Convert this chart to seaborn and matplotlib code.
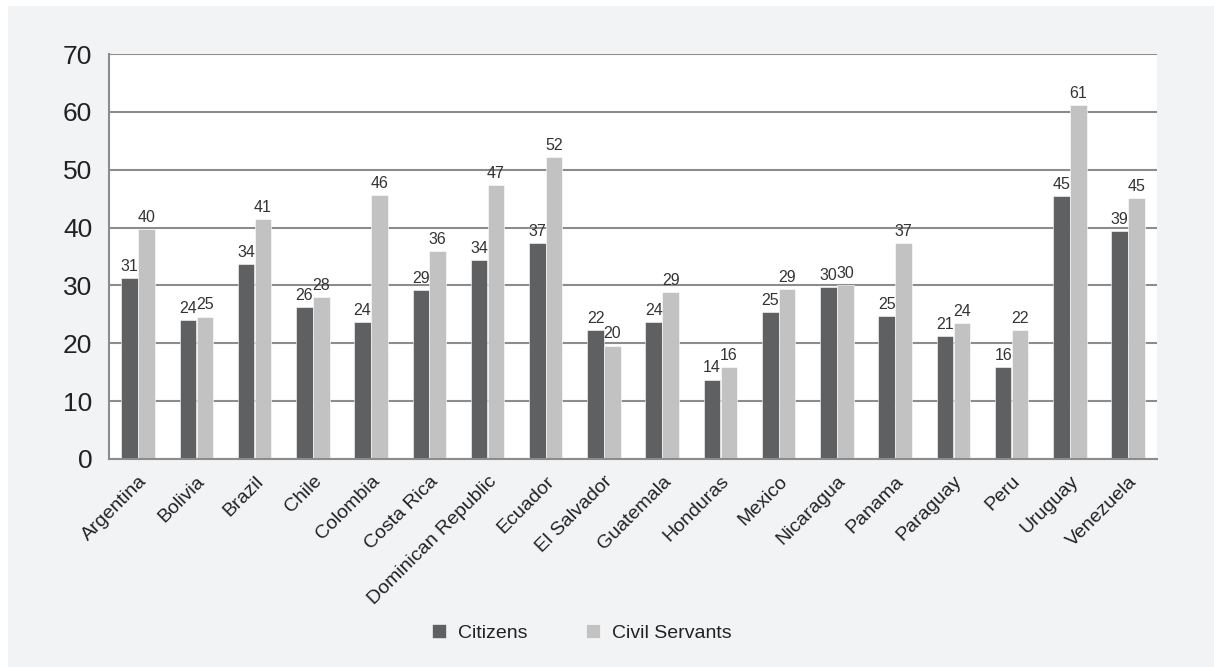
import pandas as pd
import numpy as np
import matplotlib
matplotlib.use('Agg')
import matplotlib.pyplot as plt
import seaborn as sns
from matplotlib.patches import Rectangle

# =============================================

countries = ['Argentina', 'Bolivia', 'Brazil', 'Chile', 'Colombia', 'Costa Rica',
             'Dominican Republic', 'Ecuador', 'El Salvador', 'Guatemala', 'Honduras',
             'Mexico', 'Nicaragua', 'Panama', 'Paraguay', 'Peru', 'Uruguay', 'Venezuela']
citizens = [31.3, 24.0, 33.7, 26.3, 23.7, 29.2, 34.4, 37.3, 22.3, 23.7, 13.7,
            25.4, 29.7, 24.7, 21.2, 15.9, 45.4, 39.4]
civil_servants = [39.8, 24.6, 41.4, 28.0, 45.6, 36.0, 47.4, 52.2, 19.6, 28.9, 15.9,
                  29.4, 30.1, 37.3, 23.5, 22.3, 61.2, 45.1]
yticks = [0, 10, 20, 30, 40, 50, 60, 70]

data = pd.DataFrame({
    'Country': countries * 2,
    'Value': citizens + civil_servants,
    'Group': ['Citizens'] * len(countries) + ['Civil Servants'] * len(countries),
})

# =============================================

sns.set_style('white')
plt.rcParams['font.family'] = ['Liberation Sans', 'DejaVu Sans']

bg = '#f2f3f5'
grid_col = '#8c8c8c'
text_col = '#222222'

fig = plt.figure(figsize=(12.14, 6.67), dpi=100, facecolor='white')
# grey panel behind everything, leaving thin white strips top and left
fig.patches.append(Rectangle((8 / 1214, 0), 1 - 8 / 1214, 1 - 6 / 667,
                             transform=fig.transFigure, facecolor=bg,
                             edgecolor='none', linewidth=0, zorder=-10))

ax = fig.add_axes([0.0898, 0.312, 0.8634, 0.607])
ax.set_facecolor('white')

sns.barplot(x='Country', y='Value', hue='Group', data=data, ax=ax,
            palette=['#5f6062', '#c2c2c2'], width=0.58, gap=0.02,
            edgecolor='white', linewidth=0.4, legend=True)

for cont in ax.containers:
    ax.bar_label(cont, fmt='%.0f', fontsize=11.5, padding=3, color='#333333')

ax.set_ylim(0, 70)
ax.set_xlim(-0.5, len(countries) - 0.5)
ax.set_yticks(yticks)
ax.yaxis.grid(True, color=grid_col, linewidth=1.5)
ax.set_axisbelow(True)

for side in ['top', 'right']:
    ax.spines[side].set_visible(False)
for side in ['left', 'bottom']:
    ax.spines[side].set_color(grid_col)
    ax.spines[side].set_linewidth(1.5)

ax.tick_params(axis='y', length=8, width=1.5, color=grid_col, labelsize=19,
               labelcolor=text_col, pad=4)
ax.set_xticks(np.arange(len(countries)))
ax.set_xticklabels(countries, rotation=45, ha='right', rotation_mode='anchor',
                   fontsize=14, color=text_col)
ax.tick_params(axis='x', length=0, pad=10)
ax.set_xticks(np.arange(len(countries) + 1) - 0.5, minor=True)
ax.tick_params(axis='x', which='minor', length=6, width=1.5, color=grid_col)

ax.set_xlabel('')
ax.set_ylabel('')

handles, labels = ax.get_legend_handles_labels()
ax.get_legend().remove()
fig.legend(handles, labels, loc='center', bbox_to_anchor=(0.479, 0.051), ncol=2,
           frameon=False, fontsize=14, handlelength=0.75, handleheight=0.75,
           columnspacing=3.0, handletextpad=0.6, labelcolor=text_col)

plt.savefig('out.png', dpi=100, facecolor='white')
